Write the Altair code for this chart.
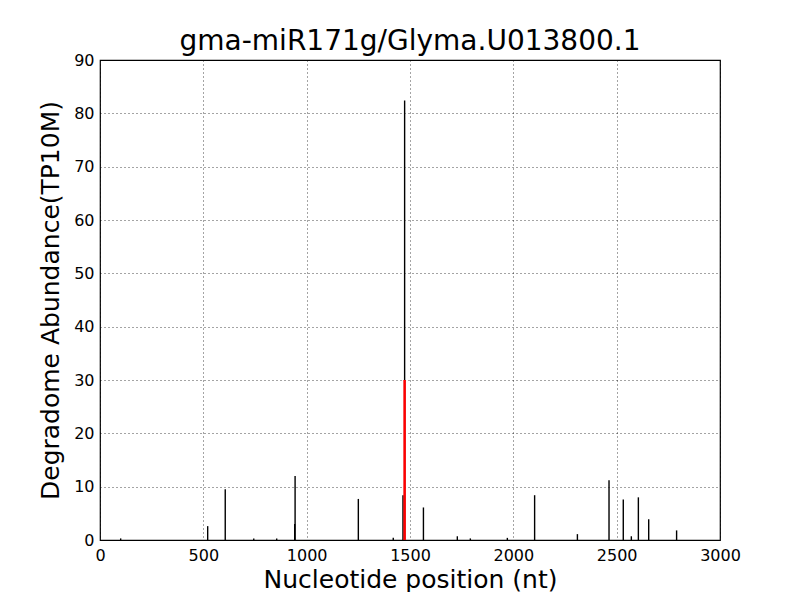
import altair as alt
import pandas as pd

# Degradome reads (black) : position (nt) and abundance (TP10M)
positions = [100, 521, 606, 744, 855, 942, 944, 1250, 1419, 1466, 1474, 1565,
             1729, 1792, 1971, 2103, 2310, 2463, 2532, 2571, 2605, 2655, 2790]
abundance = [0.3, 2.6, 9.5, 0.3, 0.3, 3.0, 12.0, 7.7, 0.4, 8.4, 82.4, 6.1,
             0.7, 0.3, 0.4, 8.4, 1.1, 11.2, 7.6, 0.7, 8.0, 3.9, 1.8]

# miRNA target site (red)
target_pos = [1474]
target_val = [30]

title = "gma-miR171g/Glyma.U013800.1"
x_ticks = [0, 500, 1000, 1500, 2000, 2500, 3000]
y_ticks = [0, 10, 20, 30, 40, 50, 60, 70, 80, 90]

reads = pd.DataFrame({"pos": positions, "val": abundance, "zero": [0] * len(positions)})
target = pd.DataFrame({"pos": target_pos, "val": target_val, "zero": [0] * len(target_pos)})

FONT = "DejaVu Sans"

x_enc = alt.X("pos:Q",
              scale=alt.Scale(domain=[0, 3000], nice=False, zero=False),
              axis=alt.Axis(values=x_ticks, title="Nucleotide position (nt)", format="d"))
y_enc = alt.Y("val:Q",
              scale=alt.Scale(domain=[0, 90], nice=False),
              axis=alt.Axis(values=y_ticks, title="Degradome Abundance(TP10M)", format="d"))

black = alt.Chart(reads).mark_rule(color="#000000", strokeWidth=1.4).encode(
    x=x_enc, y=y_enc, y2="zero:Q"
)
red = alt.Chart(target).mark_rule(color="#ff0000", strokeWidth=2.5).encode(
    x="pos:Q", y="val:Q", y2="zero:Q"
)

chart = (
    alt.layer(black, red)
    .properties(
        width=620,
        height=480,
        title=alt.TitleParams(title, font=FONT, fontSize=28, fontWeight="normal",
                              color="#000000", anchor="middle", offset=7,
                              baseline="alphabetic", dy=33),
        autosize=alt.AutoSizeParams(type="none"),
        padding={"left": 92, "top": 52, "right": 72, "bottom": 52},
    )
    .configure_view(stroke="#000000", strokeWidth=1.2, fill="white")
    .configure_axis(
        domain=False,
        ticks=False,
        tickSize=0,
        grid=True,
        gridColor="#000000",
        gridDash=[1, 3],
        gridWidth=0.8,
        gridOpacity=0.9,
        labelFont=FONT,
        labelFontSize=16,
        labelColor="#000000",
        labelFlush=False,
        titleFont=FONT,
        titleFontSize=25,
        titleFontWeight="normal",
        titleColor="#000000",
    )
    .configure_axisX(labelPadding=7, titlePadding=4)
    .configure_axisY(labelPadding=6, titlePadding=10)
)

chart.save("out.html", embed_options={"renderer": "svg", "actions": False})
